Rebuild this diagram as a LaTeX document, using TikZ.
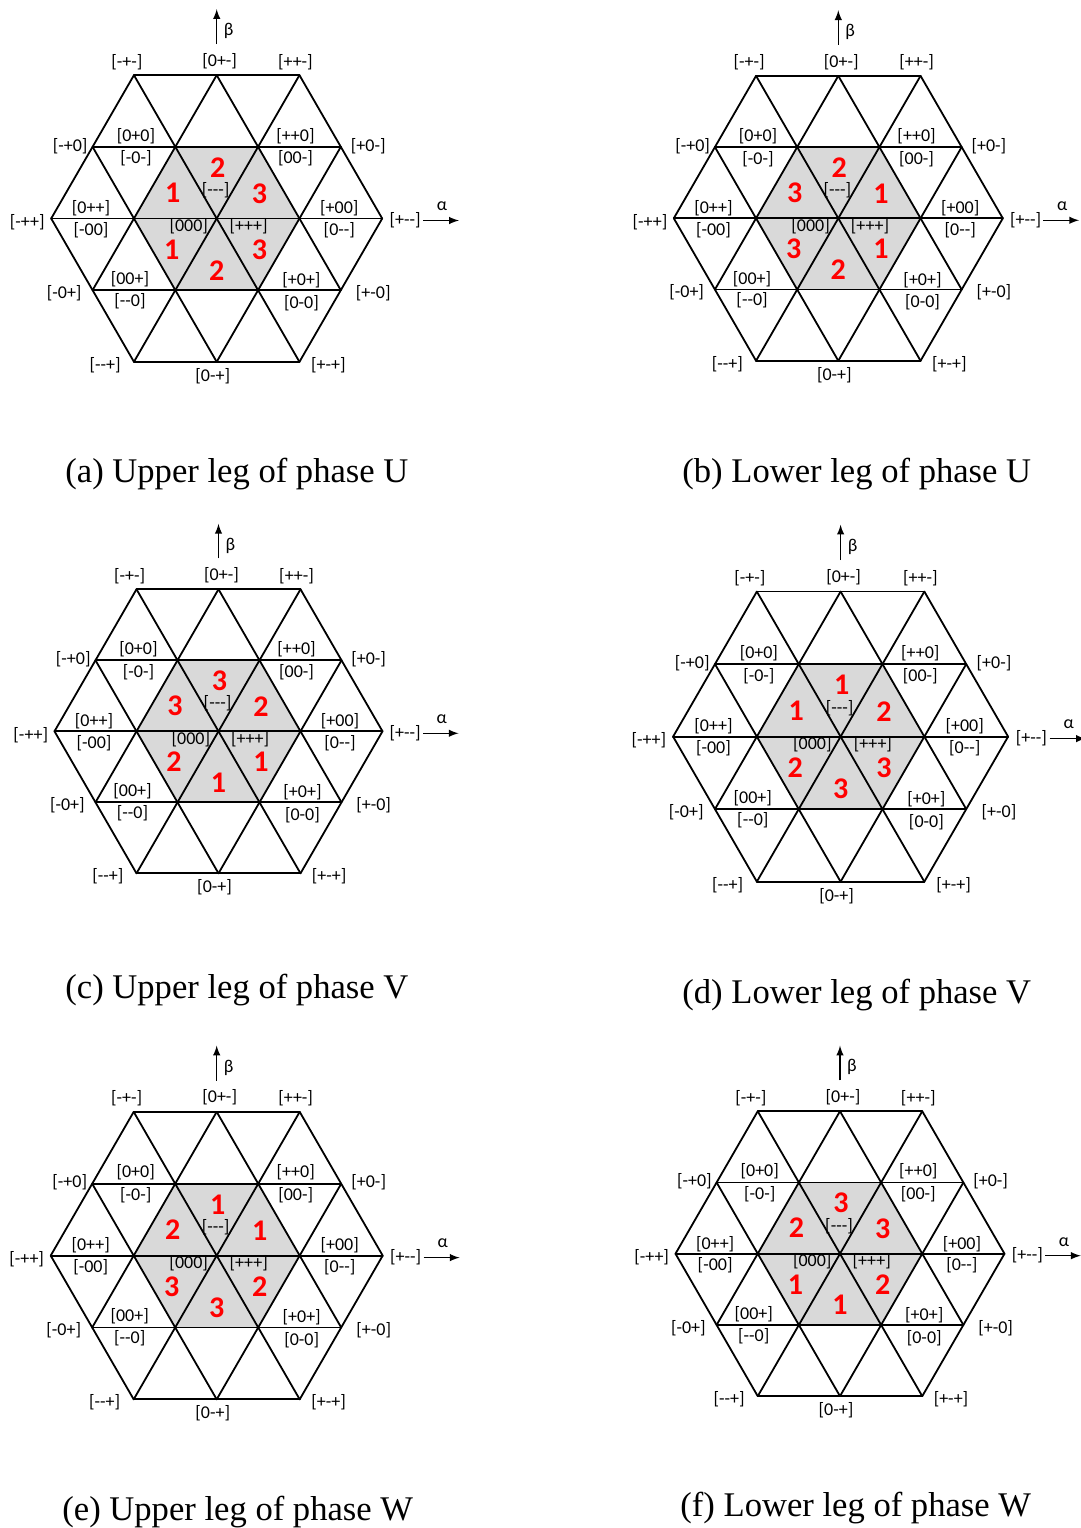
\documentclass[tikz,border=0pt]{standalone}
\usepackage{fontspec}
\setmainfont{Liberation Serif}
\newfontfamily\lblfont{Carlito}

% one hexagon of switching states, #1 name, #2 centre, #3 scale, #4 sector digits
\newcommand{\svmpanel}[4]{%
\begin{scope}[shift={#2},scale=#3]
\fill[hexfill] (83,0) -- (41.5,71.88) -- (-41.5,71.88) -- (-83,0) -- (-41.5,-71.88) -- (41.5,-71.88) -- cycle;
\foreach \r in {0,60,120}
  \draw[gridline,rotate=\r] (-166,0) -- (166,0)
    (-124.5,71.88) -- (124.5,71.88) (-124.5,-71.88) -- (124.5,-71.88)
    (-83,143.76) -- (83,143.76) (-83,-143.76) -- (83,-143.76);
\foreach \x/\y/\t [count=\i] in {-90/-157/{[-+-]}, 3/-158/{[0+-]}, 79/-157/{[++-]},
    -147/-73/{[-+0]}, -81/-83/{[0+0]}, -81/-60/{[-0-]}, 79/-83/{[++0]}, 79/-60/{[00-]}, 152/-73/{[+0-]},
    -190/4/{[-++]}, -126/-10/{[0++]}, -126/12/{[-00]}, -1/-28/{[---]}, -28/8/{[000]}, 32/8/{[+++]},
    123/-10/{[+00]}, 123/12/{[0--]}, 189/2/{[+--]},
    -153/75/{[-0+]}, -87/61/{[00+]}, -87/83/{[--0]}, 85/62/{[+0+]}, 85/85/{[0-0]}, 157/75/{[+-0]},
    -112/147/{[--+]}, -4/158/{[0-+]}, 112/147/{[+-+]}}
  \node[vlabel] (#1-v\i) at (\x,\y) {\t};
\foreach \d [count=\i from 0] in {#4}{
  \pgfmathsetmacro{\nx}{{-44,1,43,-45,0,43}[\i]}
  \pgfmathsetmacro{\ny}{{-26,-51,-25,31,52,31}[\i]}
  \node[sector] (#1-n\i) at (\nx,\ny) {\d};
}
% axes
\coordinate (#1-b0) at (0,-175);
\coordinate (#1-b1) at (0,-210);
\coordinate (#1-a0) at (207,2);
\coordinate (#1-a1) at (243,2);
\draw[axis] (#1-b0) -- (#1-b1);
\draw[axis] (#1-a0) -- (#1-a1);
\node[vlabel] (#1-beta) at (12,-188) {β};
\node[vlabel] (#1-alpha) at (226,-12) {α};
\end{scope}}

\begin{document}
\begin{tikzpicture}[x=0.5pt,y=-0.5pt,
  hexfill/.style={fill=black!15},
  gridline/.style={line width=0.9pt,line cap=round},
  vlabel/.style={inner sep=0pt,font=\lblfont\fontsize{9pt}{10pt}\selectfont},
  sector/.style={inner sep=0pt,text=red,font=\lblfont\bfseries\fontsize{15pt}{16pt}\selectfont},
  axis/.style={line width=0.7pt,-latex},
  caption/.style={anchor=base west,inner sep=0pt,font=\fontsize{17.3pt}{20pt}\selectfont}]
\useasboundingbox (0,0) rectangle (1081,1528);

\svmpanel{a}{(216.7,218.5)}{0.997}{1,2,3,1,2,3}
\svmpanel{b}{(838.3,218.3)}{0.991}{3,2,1,3,2,1}
\svmpanel{c}{(218.5,731.3)}{0.988}{3,3,2,2,1,1}
\svmpanel{d}{(840.6,736.6)}{1.009}{1,1,2,2,3,3}
\svmpanel{e}{(216.7,1255.6)}{1}{2,1,1,3,3,2}
\svmpanel{f}{(840,1253.7)}{0.991}{2,3,3,1,1,2}

\node[caption] (capa) at (65,482) {(a) Upper leg of phase U};
\node[caption] (capb) at (682,482) {(b) Lower leg of phase U};
\node[caption] (capc) at (65,998) {(c) Upper leg of phase V};
\node[caption] (capd) at (682,1003) {(d) Lower leg of phase V};
\node[caption] (cape) at (62,1520) {(e) Upper leg of phase W};
\node[caption] (capf) at (680,1516) {(f) Lower leg of phase W};
\end{tikzpicture}
\end{document}
